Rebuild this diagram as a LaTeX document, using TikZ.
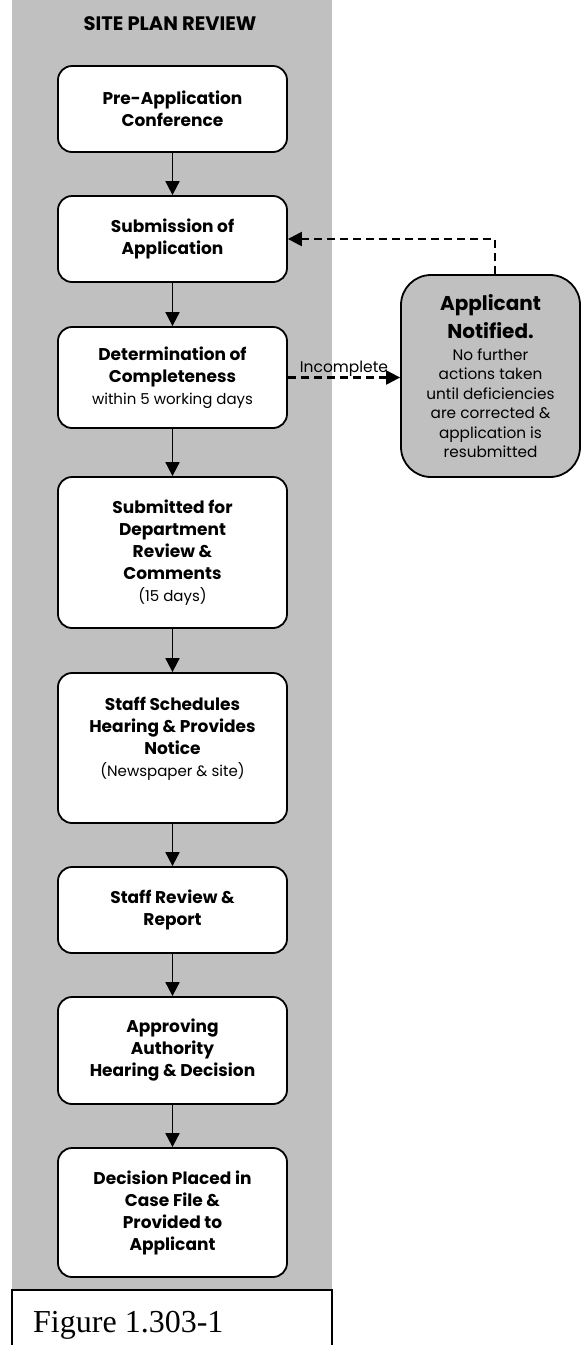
\documentclass[tikz,border=0pt]{standalone}
\usepackage{fontspec}
\setmainfont{Poppins}
\newfontfamily\capfont{Liberation Serif}
\usetikzlibrary{arrows.meta}
\definecolor{lanegray}{RGB}{192,192,192}
\tikzset{
    stepbox/.style={draw, line width=1.8pt, rounded corners=14pt, fill=white, inner sep=0pt,
        minimum width=229pt, align=center, font=\fontsize{17}{22}\selectfont\bfseries},
    flow/.style={line width=1.8pt, -{Triangle[length=14pt,width=14pt]}},
    back/.style={line width=2.2pt, dash pattern=on 8pt off 5pt, -{Triangle[length=14pt,width=14pt]}},
}
\newcommand{\smalltxt}[1]{{\fontsize{15}{22}\selectfont\mdseries #1}}
\begin{document}
\begin{tikzpicture}[x=1pt, y=-1pt]
        \useasboundingbox (0,0) rectangle (581,1345);
        % lane
        \fill[lanegray] (12,0) rectangle (332,1289);
        \node[font=\fontsize{19.5}{22}\selectfont\bfseries] (title) at (170, 24) {SITE PLAN REVIEW};

        % main steps
        \node[stepbox, minimum height=86pt] (preapp) at (172.5, 109) {Pre-Application\\Conference};
        \node[stepbox, minimum height=86pt] (submit) at (172.5, 239) {Submission of\\Application};
            \draw[flow] (preapp) to (submit);
        \node[stepbox, minimum height=101pt] (complete) at (172.5, 377.5) {Determination of\\Completeness\\\smalltxt{within 5 working days}};
            \draw[flow] (submit) to (complete);
        \node[stepbox, minimum height=151pt] (review) at (172.5, 552.5) {Submitted for\\Department\\Review \&\\Comments\\\smalltxt{(15 days)}};
            \draw[flow] (complete) to (review);
        \node[stepbox, minimum height=150pt] (hearing) at (172.5, 748) {Staff Schedules\\Hearing \& Provides\\Notice\\\smalltxt{(Newspaper \& site)}\\~};
            \draw[flow] (review) to (hearing);
        \node[stepbox, minimum height=86pt] (staffrep) at (172.5, 910) {Staff Review \&\\Report};
            \draw[flow] (hearing) to (staffrep);
        \node[stepbox, minimum height=107pt] (decide) at (172.5, 1050.5) {Approving\\Authority\\Hearing \& Decision};
            \draw[flow] (staffrep) to (decide);
        \node[stepbox, minimum height=129pt] (placed) at (172.5, 1212.5) {Decision Placed in\\Case File \&\\Provided to\\Applicant};
            \draw[flow] (decide) to (placed);

        % incomplete loop
        \node[stepbox, fill=lanegray, rounded corners=30pt, minimum width=179pt, minimum height=202pt,
            font=\fontsize{15.3}{19.5}\selectfont\mdseries] (notified) at (490.5, 376)
            {{\fontsize{20}{25}\selectfont\bfseries Applicant}\\[5.5pt]{\fontsize{20}{25}\selectfont\bfseries Notified.}\\[2.5pt]No further\\actions taken\\until deficiencies\\are corrected \&\\application is\\resubmitted};
        \draw[back] (complete.east) to node[midway, anchor=base, yshift=5pt, inner sep=0pt, font=\fontsize{15.5}{18}\selectfont] {Incomplete} (notified.west |- complete.east);
        \draw[back] ([xshift=4.5pt]notified.north) |- (submit.east);

        % caption
        \draw[line width=1.2pt] (12,1360) -- (12,1290) -- (332,1290) -- (332,1360);
        \node[anchor=base west, inner sep=0pt, font=\capfont\fontsize{32}{36}\selectfont] (fig) at (33, 1332) {Figure 1.303-1};
\end{tikzpicture}
\end{document}
